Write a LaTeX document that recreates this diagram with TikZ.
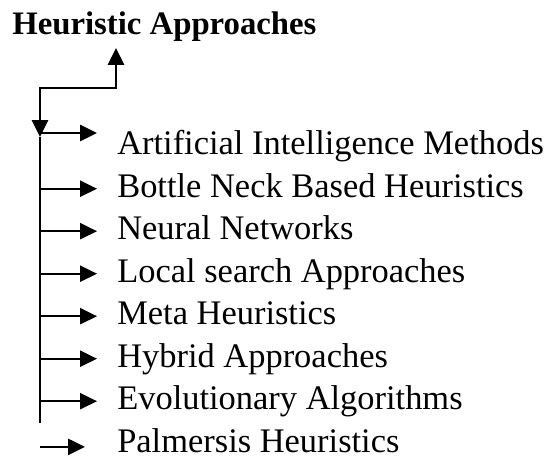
\documentclass[tikz,border=0pt]{standalone}
\usepackage{fontspec}
\setmainfont{Liberation Serif}
\usetikzlibrary{arrows.meta, positioning}

\tikzset{
    % Heading text
    heading/.style={
        anchor=base west, inner sep=0pt,
        font=\fontsize{23.3}{28}\selectfont\bfseries
    },
    % Listed approaches
    method/.style={
        anchor=base west, inner sep=0pt,
        font=\fontsize{24.5}{29}\selectfont
    },
    % Arrows
    link arrow/.style={
        line width=1.5pt, {Triangle[length=0.42cm, width=0.4cm]}-{Triangle[length=0.42cm, width=0.4cm]}
    },
    branch arrow/.style={
        -{Triangle[length=0.42cm, width=0.4cm]}, line width=1.5pt
    },
    spine line/.style={
        line width=1.1pt
    }
}

\begin{document}
\begin{tikzpicture}

    \useasboundingbox (0,0) rectangle (13.725,11.45);

    % Title
    \node[heading] (title) at (0.3, 10.575) {Heuristic Approaches};

    % Approaches, one per row
    \foreach \name/\txt [count=\i from 0] in {
        ai/Artificial Intelligence Methods,
        bn/Bottle Neck Based Heuristics,
        nn/Neural Networks,
        ls/Local search Approaches,
        mh/Meta Heuristics,
        hy/Hybrid Approaches,
        ea/Evolutionary Algorithms,
        ph/Palmersis Heuristics}
    {
        \node[method] (\name) at (2.925, 7.575 - 1.0625*\i) {\txt};
    }

    % Vertical spine
    \coordinate (up) at (2.9, 10.25);
    \coordinate (hook) at (2.9, 9.25);
    \coordinate (top) at (1.0, 8.025);
    \coordinate (bot) at (1.0, 0.875);
    \draw[spine line] (top) -- (bot);

    % Link up to the title
    \draw[link arrow] (up) -- (hook) -| (top);

    % Branches
    \draw[branch arrow] (top |- {0,8.125}) -- ([xshift=-0.5cm]ai.base west |- {0,8.125});
    \foreach \name in {bn, nn, ls, mh, hy, ea} {
        \draw[branch arrow] ([yshift=0.22cm]top |- \name.base west) -- ([xshift=-0.5cm, yshift=0.22cm]\name.base west);
    }
    \draw[branch arrow] ([yshift=0.14cm]top |- ph.base west) -- ([xshift=-0.8cm, yshift=0.14cm]ph.base west);

\end{tikzpicture}
\end{document}
